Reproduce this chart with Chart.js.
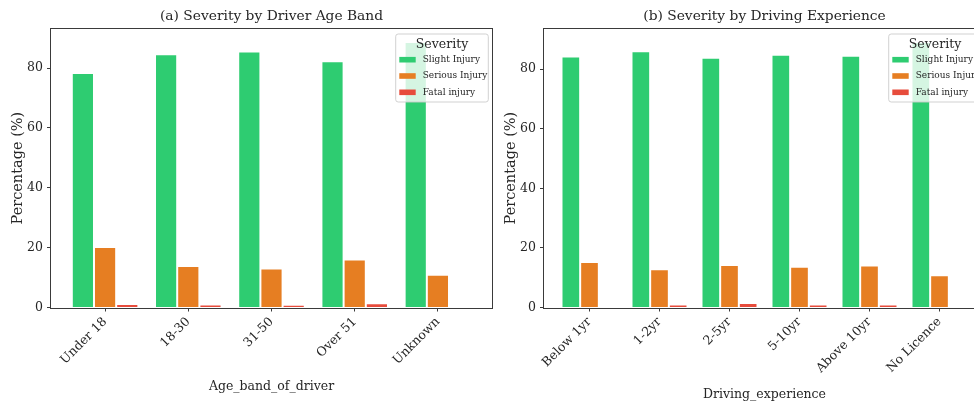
<!DOCTYPE html>
<html>
<head>
<meta charset="utf-8">
<script src="https://cdn.jsdelivr.net/npm/chart.js@4.4.1/dist/chart.umd.min.js"></script>
<style>
  html, body { margin: 0; padding: 0; background: #fff; }
  body { position: relative; width: 974px; height: 407px; overflow: hidden; }
  canvas { position: absolute; top: 0; }
  #ageChart { left: 0; }
  #expChart { left: 493px; }
</style>
</head>
<body>
<canvas id="ageChart" width="500" height="407"></canvas>
<canvas id="expChart" width="500" height="407"></canvas>
<script>
// Severity classes and their colours
const severityNames = ['Slight Injury', 'Serious Injury', 'Fatal injury'];
const severityColors = ['#2ecc71', '#e67e22', '#e74c3c'];

// (a) share of each severity within every driver age band (%)
const ageBands = ['Under 18', '18-30', '31-50', 'Over 51', 'Unknown'];
const ageSlight = [78.3, 84.6, 85.5, 82.3, 88.7];
const ageSerious = [20.2, 13.9, 13.0, 16.0, 10.9];
const ageFatal = [1.2, 1.0, 0.9, 1.4, 0.0];

// (b) share of each severity within every driving experience band (%)
const expBands = ['Below 1yr', '1-2yr', '2-5yr', '5-10yr', 'Above 10yr', 'No Licence'];
const expSlight = [84.2, 86.0, 83.8, 84.8, 84.5, 89.1];
const expSerious = [15.3, 12.8, 14.3, 13.7, 14.1, 10.8];
const expFatal = [0.0, 1.0, 1.5, 1.0, 1.0, 0.0];

// value axis tick labels
const yTicks = [0, 20, 40, 60, 80];

const FONT = "'DejaVu Serif', 'Liberation Serif', serif";
const INK = '#262626';

// full box round the plot, like the axes spines, plus the title centred over the plot
const framePlugin = {
  id: 'frame',
  afterDraw(chart, args, opts) {
    const { ctx, chartArea: a } = chart;
    ctx.save();
    ctx.strokeStyle = '#3a3a3a';
    ctx.lineWidth = 1;
    ctx.strokeRect(Math.round(a.left) - 0.5, Math.round(a.top) - 0.5,
                   Math.round(a.right - a.left) + 1, Math.round(a.bottom - a.top) + 1);
    ctx.fillStyle = INK;
    ctx.font = `13.8px ${FONT}`;
    ctx.textAlign = 'center';
    ctx.textBaseline = 'middle';
    ctx.fillText(opts.text, (a.left + a.right) / 2, 16);
    ctx.restore();
  }
};

// legend box with a title, drawn inside the upper right of the plot
const severityLegend = {
  id: 'severityLegend',
  afterDraw(chart) {
    const { ctx, chartArea: a } = chart;
    const x = a.left + 344.7, y = a.top + 5.3, w = 92.6, h = 68, r = 2.5;
    ctx.save();
    ctx.beginPath();
    ctx.moveTo(x + r, y);
    ctx.arcTo(x + w, y, x + w, y + h, r);
    ctx.arcTo(x + w, y + h, x, y + h, r);
    ctx.arcTo(x, y + h, x, y, r);
    ctx.arcTo(x, y, x + w, y, r);
    ctx.closePath();
    ctx.fillStyle = 'rgba(255,255,255,0.8)';
    ctx.fill();
    ctx.strokeStyle = 'rgba(204,204,204,0.9)';
    ctx.lineWidth = 1;
    ctx.stroke();

    ctx.fillStyle = INK;
    ctx.textAlign = 'center';
    ctx.textBaseline = 'middle';
    ctx.font = `12.5px ${FONT}`;
    ctx.fillText('Severity', x + w / 2, y + 10.5);

    ctx.font = `9px ${FONT}`;
    ctx.textAlign = 'left';
    chart.data.datasets.forEach((ds, i) => {
      const cy = y + 25.7 + i * 16.3;
      ctx.fillStyle = ds.backgroundColor;
      ctx.fillRect(x + 3.6, cy - 2.8, 16.4, 5.6);
      ctx.fillStyle = INK;
      ctx.fillText(ds.label, x + 27, cy);
    });
    ctx.restore();
  }
};

function makeChart(id, title, cats, series, xTitle, xTitlePad) {
  const maxVal = Math.max(...series.flat());
  new Chart(document.getElementById(id), {
    type: 'bar',
    data: {
      datasets: series.map((vals, s) => ({
        label: severityNames[s],
        data: vals.map((v, i) => ({ x: i, y: v })),
        backgroundColor: severityColors[s],
        borderColor: 'rgba(255,255,255,0.55)',
        borderWidth: 1,
        categoryPercentage: 0.8,
        barPercentage: 1.0
      }))
    },
    options: {
      responsive: false,
      devicePixelRatio: 1,
      animation: false,
      layout: { padding: { left: 0, right: 8, top: 28.7, bottom: 0 } },
      plugins: {
        legend: { display: false },
        tooltip: { enabled: false },
        title: { display: false },
        frame: { text: title }
      },
      scales: {
        x: {
          type: 'linear',
          offset: false,
          min: -0.65,
          max: cats.length - 0.35,
          afterBuildTicks: (axis) => { axis.ticks = cats.map((_, i) => ({ value: i })); },
          afterFit: (scale) => { scale.height = 99.5; },
          ticks: {
            autoSkip: false,
            minRotation: 45,
            maxRotation: 45,
            padding: 3,
            color: INK,
            font: { family: FONT, size: 12.5 },
            callback: (v) => cats[v]
          },
          grid: { offset: false, drawOnChartArea: false, drawTicks: true, tickLength: 4, color: '#3a3a3a' },
          border: { display: false },
          title: {
            display: true,
            text: xTitle,
            color: INK,
            font: { family: FONT, size: 12.5 },
            padding: { top: 0, bottom: xTitlePad }
          }
        },
        y: {
          min: 0,
          max: maxVal * 1.05,
          afterBuildTicks: (axis) => { axis.ticks = yTicks.map(v => ({ value: v })); },
          afterFit: (scale) => { scale.width = 51; },
          ticks: {
            padding: 4,
            color: INK,
            font: { family: FONT, size: 12.5 }
          },
          grid: { drawOnChartArea: false, drawTicks: true, tickLength: 4, color: '#3a3a3a' },
          border: { display: false },
          title: {
            display: true,
            text: 'Percentage (%)',
            color: INK,
            font: { family: FONT, size: 14.5 },
            padding: { top: 9.3, bottom: 0 }
          }
        }
      }
    },
    plugins: [framePlugin, severityLegend]
  });
}

makeChart('ageChart', '(a) Severity by Driver Age Band', ageBands,
          [ageSlight, ageSerious, ageFatal], 'Age_band_of_driver', 12.5);
makeChart('expChart', '(b) Severity by Driving Experience', expBands,
          [expSlight, expSerious, expFatal], 'Driving_experience', 4.5);
</script>
</body>
</html>
